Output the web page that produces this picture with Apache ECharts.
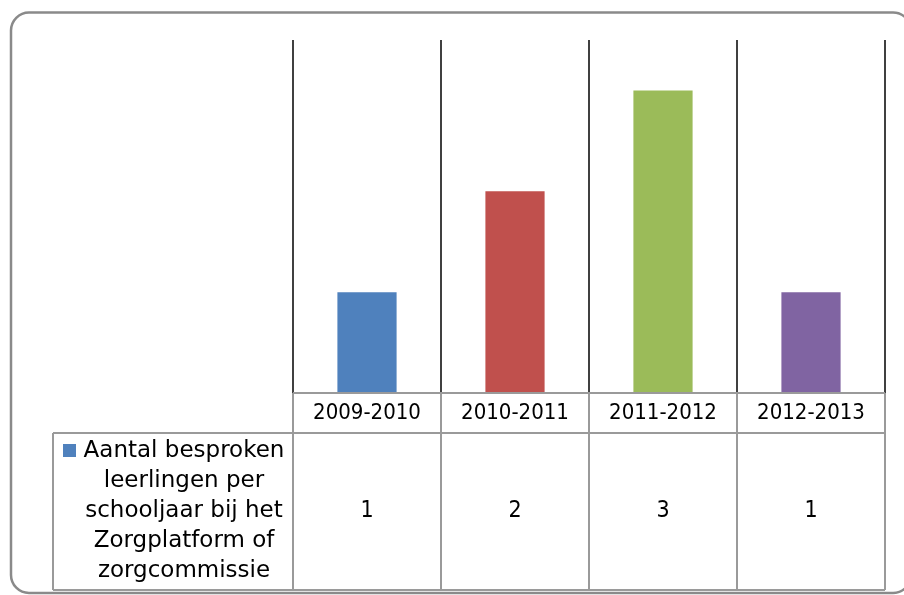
<!DOCTYPE html>
<html><head><meta charset="utf-8">
<script src="https://cdn.jsdelivr.net/npm/echarts@6/dist/echarts.min.js"></script>
<style>html,body{margin:0;padding:0;background:#fff}#c{width:904px;height:595px}</style>
</head><body><div id="c"></div>
<script>
const categories = ['2009-2010', '2010-2011', '2011-2012', '2012-2013'];
const values = [1, 2, 3, 1];
const barColors = ['#4F81BD', '#C0504D', '#9BBB59', '#8064A2'];
const seriesName = 'Aantal besproken leerlingen per schooljaar bij het Zorgplatform of zorgcommissie';
const legendLines = ['Aantal besproken', 'leerlingen per', 'schooljaar bij het', 'Zorgplatform of', 'zorgcommissie'];

const numFont = "'DejaVu Sans Condensed', 'DejaVu Sans', sans-serif";
const txtFont = "'DejaVu Sans', sans-serif";

const chart = echarts.init(document.getElementById('c'), null, {renderer: 'canvas'});
const gridL = 293, gridR = 885, gridT = 40, gridB = 393;
const rowMid = 433, tableBot = 590, legL = 53;
const tableColor = '#9a9a9a';

const graphics = [
  {type: 'rect', shape: {x: 11, y: 12.5, width: 900, height: 580.5, r: 18},
   style: {fill: 'none', stroke: '#8a8a8a', lineWidth: 2.5}, z: 10},
  {type: 'line', shape: {x1: gridL, y1: gridB, x2: gridR, y2: gridB}, style: {stroke: tableColor, lineWidth: 2}, z: 5},
  {type: 'line', shape: {x1: legL, y1: rowMid, x2: gridR, y2: rowMid}, style: {stroke: tableColor, lineWidth: 2}, z: 5},
  {type: 'line', shape: {x1: legL, y1: tableBot, x2: gridR, y2: tableBot}, style: {stroke: tableColor, lineWidth: 2}, z: 5},
  {type: 'line', shape: {x1: legL, y1: rowMid, x2: legL, y2: tableBot}, style: {stroke: tableColor, lineWidth: 2}, z: 5},
  {type: 'rect', shape: {x: 63, y: 444, width: 13, height: 13}, style: {fill: barColors[0]}, z: 6},
  {type: 'text', x: 184, y: 511.5, z: 6,
   style: {text: legendLines.join('\n'), fill: '#000', font: '23px ' + txtFont,
           align: 'center', verticalAlign: 'middle', lineHeight: 30}}
];
for (let i = 0; i <= categories.length; i++) {
  const x = gridL + (gridR - gridL) * i / categories.length;
  graphics.push({type: 'line', shape: {x1: x, y1: gridB, x2: x, y2: tableBot},
                 style: {stroke: tableColor, lineWidth: 2}, z: 5});
}

chart.setOption({
  animation: false,
  backgroundColor: '#fff',
  grid: {left: gridL, right: 904 - gridR, top: gridT, bottom: 595 - gridB},
  xAxis: [
    {type: 'category', data: categories, position: 'bottom',
     axisLine: {show: false}, axisTick: {show: false},
     splitLine: {show: true, interval: 0, lineStyle: {color: '#000', width: 1.5}},
     axisLabel: {interval: 0, color: '#000', fontSize: 22, fontFamily: numFont, margin: 8, lineHeight: 24}},
    {type: 'category', data: categories, position: 'bottom',
     axisLine: {show: false}, axisTick: {show: false}, splitLine: {show: false},
     axisLabel: {interval: 0, color: '#000', fontSize: 23, fontFamily: numFont, margin: 106, lineHeight: 24,
                 formatter: (v, i) => String(values[i])}}
  ],
  yAxis: {type: 'value', min: 0, max: 3.5, show: false, splitLine: {show: false}},
  series: [{
    name: seriesName, type: 'bar', barWidth: '40%',
    data: values.map((v, i) => ({value: v, itemStyle: {color: barColors[i]}}))
  }],
  graphic: graphics
});
</script></body></html>
